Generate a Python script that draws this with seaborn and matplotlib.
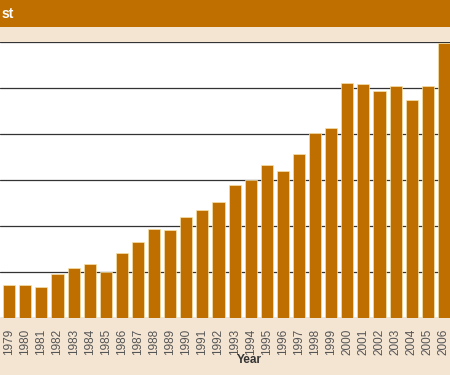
import pandas as pd
import matplotlib
matplotlib.use("Agg")
import matplotlib.pyplot as plt
import seaborn as sns

# --- Data (gridlines every 5 units) ---
years = [str(y) for y in range(1979, 2007)]
values = [3.6, 3.6, 3.35, 4.8, 5.45, 5.85, 5.0, 7.05, 8.25, 9.65, 9.55,
          11.0, 11.75, 12.6, 14.45, 15.0, 16.65, 16.0, 17.85, 20.1, 20.65,
          25.55, 25.45, 24.65, 25.2, 23.7, 25.2, 29.9]
y_ticks = [0, 5, 10, 15, 20, 25, 30]
title_text = "st"
x_label = "Year"

BAR = "#bf6e00"
BEIGE = "#f4e4d2"

sns.set_theme(style="white")
plt.rcParams['font.family'] = ['Liberation Sans', 'DejaVu Sans']

df = pd.DataFrame({"Year": years, "Value": values})

fig = plt.figure(figsize=(4.5, 3.75), dpi=100, facecolor=BEIGE)

# title band
band = fig.add_axes([0, 1 - 27 / 375, 1, 27 / 375])
band.set_facecolor(BAR)
band.set_xticks([])
band.set_yticks([])
for s in band.spines.values():
    s.set_visible(False)
band.text(0.003, 0.5, title_text, color="white", fontsize=10, fontweight="bold",
          ha="left", va="center", transform=band.transAxes)

ax = fig.add_axes([0, (375 - 318) / 375, 1, (318 - 42) / 375])
ax.set_facecolor("white")
sns.barplot(data=df, x="Year", y="Value", color=BAR, width=0.75,
            edgecolor="#f6e2a8", linewidth=0.5, saturation=1, ax=ax, zorder=3)

ax.set_xlim(-0.57, 27.38)
ax.set_ylim(0, 30)
ax.set_yticks(y_ticks)
ax.yaxis.grid(True, color="#333333", linewidth=0.9, zorder=1)
ax.tick_params(axis="y", left=False, labelleft=False)
ax.tick_params(axis="x", bottom=False, labelsize=8.5, labelcolor="#555555",
               rotation=90, pad=1.5)
for s in ax.spines.values():
    s.set_visible(False)
ax.set_xlabel("")
ax.set_ylabel("")

fig.text(249 / 450, 1 - 360 / 375, x_label, fontsize=8.5, fontweight="bold",
         color="#333333", ha="center", va="center")

fig.savefig("out.png", dpi=100, facecolor=BEIGE)
